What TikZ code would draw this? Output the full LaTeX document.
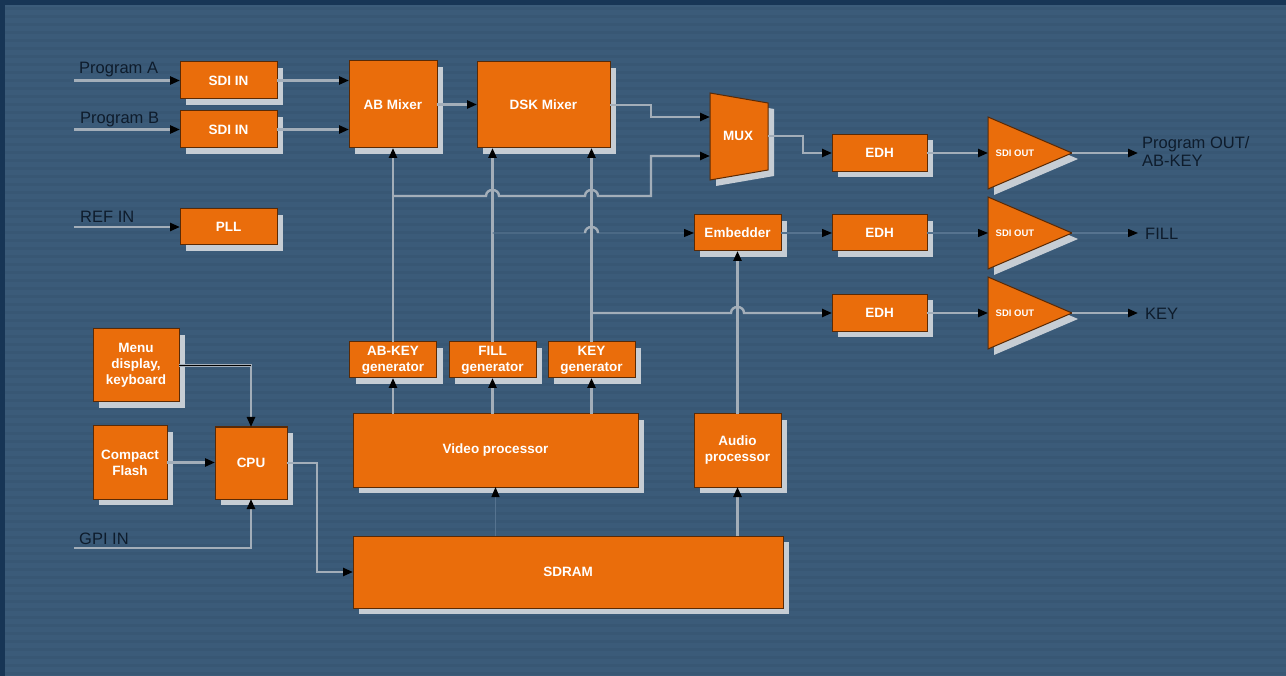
\documentclass[tikz,border=0pt]{standalone}
\usepackage{fontspec}
\setmainfont{Liberation Sans}
\usetikzlibrary{arrows.meta}
\definecolor{bgc}{HTML}{3B5B79}
\definecolor{bgdark}{HTML}{173555}
\definecolor{orng}{HTML}{EA6D0B}
\definecolor{bord}{HTML}{5A2A05}
\definecolor{shd}{HTML}{C6CDD4}
\definecolor{wirec}{HTML}{A3AEB9}
\definecolor{faintc}{HTML}{56738F}
\definecolor{lblc}{HTML}{0E1C2C}
\begin{document}
\begin{tikzpicture}[x=1pt,y=-1pt,
  blk/.style={draw=bord, line width=1pt, fill=orng, text=white,
    font=\bfseries\fontsize{13.5}{16}\selectfont, align=center,
    inner sep=0pt, outer sep=0pt,
    preaction={fill=shd, transform canvas={shift={(6pt,-6pt)}}}},
  lab/.style={text=lblc, font=\fontsize{16.5}{18}\selectfont, inner sep=0pt},
  wire/.style={draw=wirec, line width=2.4pt},
  faint/.style={draw=faintc, line width=1.2pt},
  arr/.style={-{Triangle[length=10pt,width=8pt,color=black]}},
  sdo/.style={text=white, font=\bfseries\fontsize{9.5}{10}\selectfont, inner sep=0pt}
]
\useasboundingbox (0,0) rectangle (1286,676);
\fill[bgc] (0,0) rectangle (1286,676);
\foreach \yy in {9,17,...,676} {\draw[black, opacity=0.04, line width=3pt] (0,\yy) -- (1286,\yy);}
\fill[bgdark] (0,0) rectangle (1286,5);
\fill[bgdark] (0,0) rectangle (5,676);

% ---------- blocks ----------
\node[blk, minimum width=97pt, minimum height=37pt] (sdia) at (228.5,80.5) {SDI IN};
\node[blk, minimum width=97pt, minimum height=37pt] (sdib) at (228.5,129.5) {SDI IN};
\node[blk, minimum width=97pt, minimum height=36pt] (pll) at (228.5,227) {PLL};
\node[blk, minimum width=88pt, minimum height=87pt] (abmix) at (393,104.5) {AB Mixer};
\node[blk, minimum width=133pt, minimum height=86pt] (dsk) at (543.5,105) {DSK Mixer};
\node[blk, minimum width=95pt, minimum height=37pt] (edh1) at (879.5,153) {EDH};
\node[blk, minimum width=95pt, minimum height=36pt] (edh2) at (879.5,233) {EDH};
\node[blk, minimum width=95pt, minimum height=37pt] (edh3) at (879.5,313) {EDH};
\node[blk, minimum width=87pt, minimum height=36pt] (emb) at (737.5,233) {Embedder};
\node[blk, minimum width=87pt, minimum height=36pt] (abgen) at (393,360) {AB-KEY\\generator};
\node[blk, minimum width=87pt, minimum height=36pt] (fillgen) at (492.5,360) {FILL\\generator};
\node[blk, minimum width=87pt, minimum height=36pt] (keygen) at (591.5,360) {KEY\\generator};
\node[blk, minimum width=285pt, minimum height=73pt] (video) at (495.5,450.5) {Video processor};
\node[blk, minimum width=87pt, minimum height=73pt] (audio) at (737.5,450.5) {Audio\\processor};
\node[blk, minimum width=430pt, minimum height=72pt] (sdram) at (568,572) {SDRAM};
\node[blk, minimum width=86pt, minimum height=73pt] (menu) at (136,365.5) {Menu\\display,\\keyboard};
\node[blk, minimum width=74pt, minimum height=73pt] (cf) at (130,462.5) {Compact\\Flash};
\node[blk, minimum width=72pt, minimum height=72pt] (cpu) at (251,463) {CPU};

% MUX
\coordinate (m1) at (710,93); \coordinate (m2) at (768,103);
\coordinate (m3) at (768,170); \coordinate (m4) at (710,180);
\fill[shd] ([shift={(6,6)}]m1) -- ([shift={(6,6)}]m2) -- ([shift={(6,6)}]m3) -- ([shift={(6,6)}]m4) -- cycle;
\draw[draw=bord, line width=1pt, fill=orng] (m1) -- (m2) -- (m3) -- (m4) -- cycle;
\node[text=white, font=\bfseries\fontsize{13.5}{16}\selectfont, inner sep=0pt] (mux) at (738,136) {MUX};
\coordinate (mi1) at (710,117); \coordinate (mi2) at (710,156); \coordinate (mo) at (768,136);

% SDI OUT triangles
\foreach \n/\yc in {1/153,2/233,3/313} {
  \fill[shd] (994,\yc-36+6) -- (1078,\yc+6) -- (994,\yc+36+6) -- cycle;
  \draw[draw=bord, line width=1pt, fill=orng] (988,\yc-36) -- (1072,\yc) -- (988,\yc+36) -- cycle;
  \node[sdo] (so\n) at (1015,\yc) {SDI OUT};
  \coordinate (ti\n) at (988,\yc);
  \coordinate (tt\n) at (1072,\yc);
  \coordinate (oe\n) at (1138,\yc);
}

% ---------- labels ----------
\node[lab, anchor=base west] (lpa) at (79,74) {Program A};
\node[lab, anchor=base west] (lpb) at (80,124) {Program B};
\node[lab, anchor=base west] (lref) at (80,223) {REF IN};
\node[lab, anchor=base west] (lgpi) at (79,544) {GPI IN};
\node[lab, anchor=base west] (lout) at (1142,149) {Program OUT/};
\node[lab, anchor=base west] (lout2) at (1142,167) {AB-KEY};
\node[lab, anchor=base west] (lfill) at (1145,240) {FILL};
\node[lab, anchor=base west] (lkey) at (1145,320) {KEY};

% ---------- connectors ----------
\coordinate (ina) at (74,80.5);
\coordinate (inb) at (74,129.5);
\coordinate (inr) at (74,227);
\coordinate (ing) at (74,548);
\draw[wire,arr] (ina) -- (sdia.west);
\draw[wire,arr] (inb) -- (sdib.west);
\draw[wire,arr] (inr) -- (pll.west);
\draw[wire,arr] (sdia.east) -- (sdia.east -| abmix.west);
\draw[wire,arr] (sdib.east) -- (sdib.east -| abmix.west);
\draw[wire,arr] (abmix.east) -- (abmix.east -| dsk.west);
\draw[wire,arr] (dsk.east) -- (651,105) -- (651,117) -- (mi1);
% generators up to mixers
\draw[wire,arr] (abgen.north) -- (abgen.north |- abmix.south);
\draw[wire,arr] (fillgen.north) -- (fillgen.north |- dsk.south);
\draw[wire,arr] (keygen.north) -- (keygen.north |- dsk.south);
% AB-KEY branch to MUX with hops
\draw[wire,arr] (393,196) -- (486,196) .. controls (486,188) and (499,188) .. (499,196)
  -- (585,196) .. controls (585,188) and (598,188) .. (598,196) -- (651,196) -- (651,156) -- (mi2);
% FILL branch to Embedder (faint) with hop
\draw[faint,arr] (492.5,233) -- (585,233) .. controls (585,225) and (598,225) .. (598,233) -- (emb.west);
\draw[wire] (585,233) .. controls (585,225) and (598,225) .. (598,233);
% KEY branch to EDH3 with hop
\draw[wire,arr] (591.5,313) -- (731,313) .. controls (731,305) and (744,305) .. (744,313) -- (edh3.west);
% audio/embedder
\draw[wire,arr] (audio.north) -- (emb.south);
\draw[faint,arr] (emb.east) -- (edh2.west);
\draw[wire,arr] (mo) -- (803,136) -- (803,153) -- (edh1.west);
\draw[wire,arr] (edh1.east) -- (ti1);
\draw[faint,arr] (edh2.east) -- (ti2);
\draw[wire,arr] (edh3.east) -- (ti3);
\draw[wire,arr] (tt1) -- (oe1);
\draw[faint,arr] (tt2) -- (oe2);
\draw[wire,arr] (tt3) -- (oe3);
% video processor to generators
\draw[wire,arr] (abgen.south |- video.north) -- (abgen.south);
\draw[wire,arr] (fillgen.south |- video.north) -- (fillgen.south);
\draw[wire,arr] (keygen.south |- video.north) -- (keygen.south);
% SDRAM to processors
\draw[faint,arr] (video.south |- sdram.north) -- (video.south);
\draw[wire,arr] (audio.south |- sdram.north) -- (audio.south);
% CPU area
\draw[wire,arr] (menu.east) -- (cpu.north |- menu.east) -- (cpu.north);
\draw[black, line width=1.2pt] (menu.east) -- (cpu.north |- menu.east);
\draw[wire,arr] (cf.east) -- (cf.east -| cpu.west);
\draw[wire,arr] (ing) -- (cpu.south |- ing) -- (cpu.south);
\draw[wire,arr] (cpu.east) -- (317,463) -- (317,572) -- (sdram.west);
\end{tikzpicture}
\end{document}
